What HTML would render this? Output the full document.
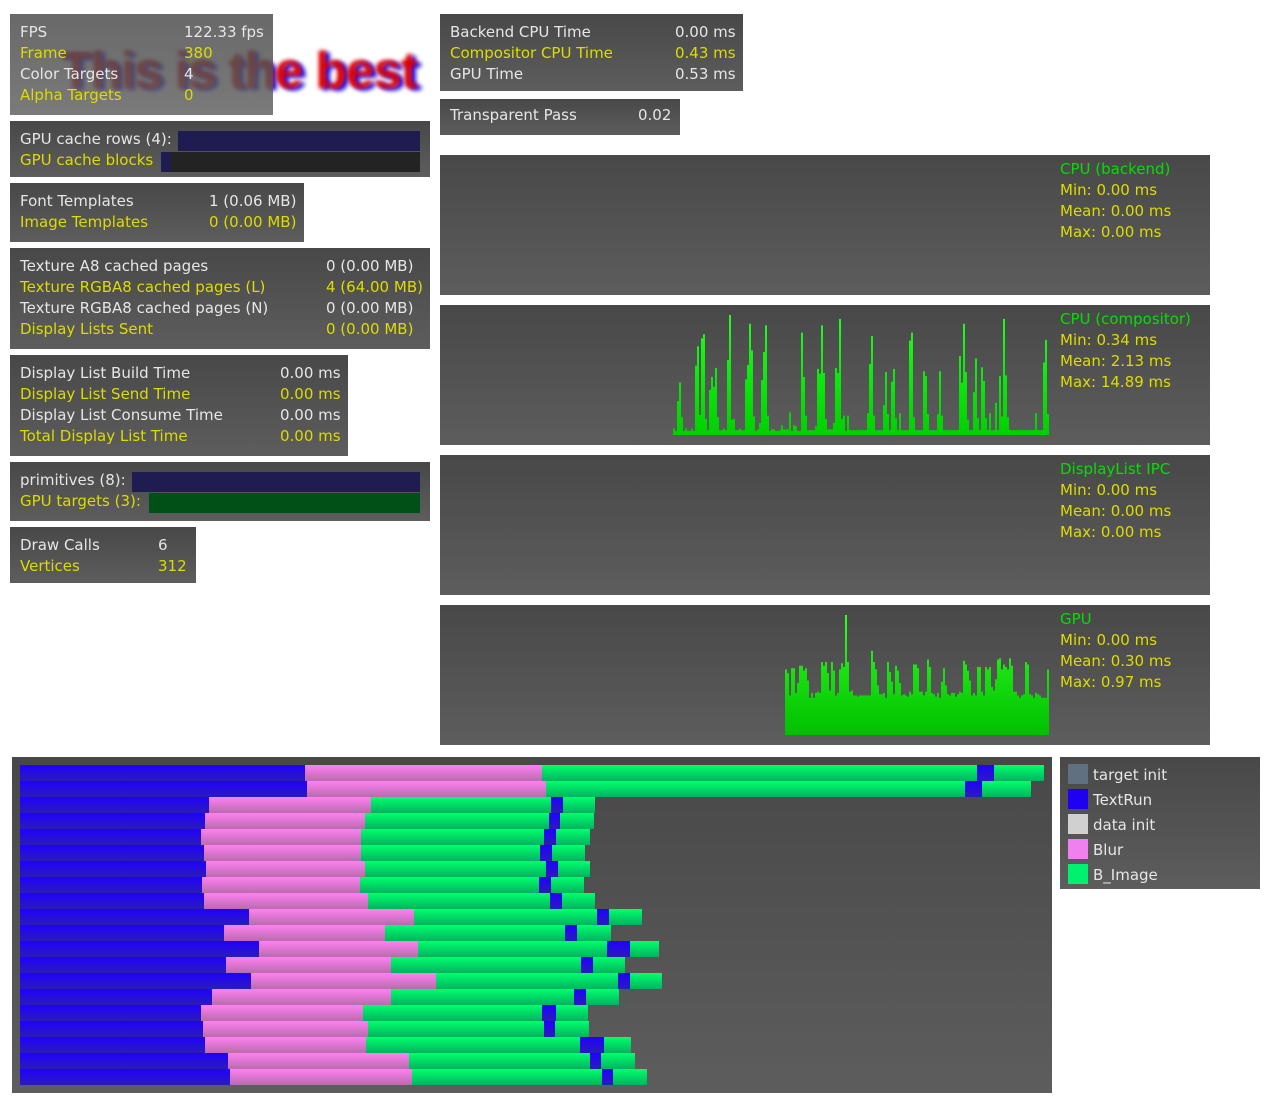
<!DOCTYPE html>
<html><head><meta charset="utf-8">
<style>
*{box-sizing:border-box}
body{margin:0;width:1280px;height:1118px;background:#fff;position:relative;overflow:hidden;font-family:"DejaVu Sans","Liberation Sans",sans-serif;font-size:15px}
.p{position:absolute;background:linear-gradient(#484848,#5d5d5d)}
.t{position:absolute;white-space:nowrap;line-height:21px;color:#e6e6e6}
.y{color:#dcdc00}
.g{color:#00e000}
</style></head><body>
<svg style="position:absolute;left:0;top:0" width="440" height="120">
<defs><filter id="bl"><feGaussianBlur stdDeviation="2.2"/></filter></defs>
<text x="64" y="90" font-family="Liberation Sans" font-weight="bold" font-size="52" fill="#1010ff" textLength="358" filter="url(#bl)">This is the best</text>
<text x="60" y="88" font-family="Liberation Sans" font-weight="bold" font-size="52" fill="#e00000" textLength="358" filter="url(#bl)">This is the best</text>
</svg>
<div class="p" style="left:10px;top:14px;width:263px;height:101px;opacity:.82"></div>
<div class="t" style="left:20px;top:22px">FPS<br><span class="y">Frame</span><br>Color Targets<br><span class="y">Alpha Targets</span></div>
<div class="t" style="left:184px;top:22px">122.33 fps<br><span class="y">380</span><br>4<br><span class="y">0</span></div>

<div class="p" style="left:10px;top:121px;width:420px;height:56px"></div>
<div class="t" style="left:20px;top:129px">GPU cache rows (4):<br><span class="y">GPU cache blocks</span></div>
<div style="position:absolute;left:178px;top:131px;width:242px;height:20px;background:#1e1c50"></div>
<div style="position:absolute;left:161px;top:152px;width:259px;height:20px;background:#232323"><div style="width:10px;height:20px;background:#1e1c50"></div></div>

<div class="p" style="left:10px;top:183px;width:294px;height:59px"></div>
<div class="t" style="left:20px;top:191px">Font Templates<br><span class="y">Image Templates</span></div>
<div class="t" style="left:209px;top:191px">1 (0.06 MB)<br><span class="y">0 (0.00 MB)</span></div>

<div class="p" style="left:10px;top:248px;width:420px;height:101px"></div>
<div class="t" style="left:20px;top:256px">Texture A8 cached pages<br><span class="y">Texture RGBA8 cached pages (L)</span><br>Texture RGBA8 cached pages (N)<br><span class="y">Display Lists Sent</span></div>
<div class="t" style="left:326px;top:256px">0 (0.00 MB)<br><span class="y">4 (64.00 MB)</span><br>0 (0.00 MB)<br><span class="y">0 (0.00 MB)</span></div>

<div class="p" style="left:10px;top:355px;width:338px;height:101px"></div>
<div class="t" style="left:20px;top:363px">Display List Build Time<br><span class="y">Display List Send Time</span><br>Display List Consume Time<br><span class="y">Total Display List Time</span></div>
<div class="t" style="left:280px;top:363px">0.00 ms<br><span class="y">0.00 ms</span><br>0.00 ms<br><span class="y">0.00 ms</span></div>

<div class="p" style="left:10px;top:462px;width:420px;height:59px"></div>
<div class="t" style="left:20px;top:470px">primitives (8):<br><span class="y">GPU targets (3):</span></div>
<div style="position:absolute;left:132px;top:472px;width:288px;height:20px;background:#1e1c50"></div>
<div style="position:absolute;left:149px;top:493px;width:271px;height:20px;background:#005018"></div>

<div class="p" style="left:10px;top:527px;width:186px;height:56px"></div>
<div class="t" style="left:20px;top:535px">Draw Calls<br><span class="y">Vertices</span></div>
<div class="t" style="left:158px;top:535px">6<br><span class="y">312</span></div>

<div class="p" style="left:440px;top:14px;width:303px;height:77px"></div>
<div class="t" style="left:450px;top:22px">Backend CPU Time<br><span class="y">Compositor CPU Time</span><br>GPU Time</div>
<div class="t" style="left:675px;top:22px">0.00 ms<br><span class="y">0.43 ms</span><br>0.53 ms</div>

<div class="p" style="left:440px;top:99px;width:240px;height:36px"></div>
<div class="t" style="left:450px;top:105px">Transparent Pass</div>
<div class="t" style="left:638px;top:105px">0.02</div>

<div class="p" style="left:440px;top:155px;width:770px;height:140px"></div>
<div class="t" style="left:1060px;top:159px"><span class="g">CPU (backend)</span><br><span class="y">Min: 0.00 ms<br>Mean: 0.00 ms<br>Max: 0.00 ms</span></div>
<div class="p" style="left:440px;top:305px;width:770px;height:140px"></div>
<div class="t" style="left:1060px;top:309px"><span class="g">CPU (compositor)</span><br><span class="y">Min: 0.34 ms<br>Mean: 2.13 ms<br>Max: 14.89 ms</span></div>
<div class="p" style="left:440px;top:455px;width:770px;height:140px"></div>
<div class="t" style="left:1060px;top:459px"><span class="g">DisplayList IPC</span><br><span class="y">Min: 0.00 ms<br>Mean: 0.00 ms<br>Max: 0.00 ms</span></div>
<div class="p" style="left:440px;top:605px;width:770px;height:140px"></div>
<div class="t" style="left:1060px;top:609px"><span class="g">GPU</span><br><span class="y">Min: 0.00 ms<br>Mean: 0.30 ms<br>Max: 0.97 ms</span></div>

<div class="p" style="left:12px;top:757px;width:1040px;height:336px"></div>
<div class="p" style="left:1060px;top:757px;width:200px;height:132px"></div>
<div style="position:absolute;left:1068px;top:764px">
<div class="t" style="left:0;top:0"><span style="display:inline-block;width:20px;height:20px;background:#607080;vertical-align:-4px;margin-right:5px"></span>target init</div>
<div class="t" style="left:0;top:25px"><span style="display:inline-block;width:20px;height:20px;background:#2000f0;vertical-align:-4px;margin-right:5px"></span>TextRun</div>
<div class="t" style="left:0;top:50px"><span style="display:inline-block;width:20px;height:20px;background:#d0d0d0;vertical-align:-4px;margin-right:5px"></span>data init</div>
<div class="t" style="left:0;top:75px"><span style="display:inline-block;width:20px;height:20px;background:#f080f0;vertical-align:-4px;margin-right:5px"></span>Blur</div>
<div class="t" style="left:0;top:100px"><span style="display:inline-block;width:20px;height:20px;background:#00f070;vertical-align:-4px;margin-right:5px"></span>B_Image</div>
</div>

<svg id="chart" style="position:absolute;left:0;top:0" width="1280" height="1118">
<defs>
<linearGradient id="gb" x1="0" y1="0" x2="0" y2="1"><stop offset="0" stop-color="#2000ff"/><stop offset="1" stop-color="#2a1cb8"/></linearGradient>
<linearGradient id="gp" x1="0" y1="0" x2="0" y2="1"><stop offset="0" stop-color="#ff80f4"/><stop offset="1" stop-color="#b86cac"/></linearGradient>
<linearGradient id="gg" x1="0" y1="0" x2="0" y2="1"><stop offset="0" stop-color="#00ff6c"/><stop offset="1" stop-color="#00b460"/></linearGradient>
<linearGradient id="gc" gradientUnits="userSpaceOnUse" x1="0" y1="315" x2="0" y2="435"><stop offset="0" stop-color="#20ff20"/><stop offset="1" stop-color="#00d000"/></linearGradient>
<linearGradient id="gq" gradientUnits="userSpaceOnUse" x1="0" y1="615" x2="0" y2="735"><stop offset="0" stop-color="#30ff20"/><stop offset="1" stop-color="#00c000"/></linearGradient>
</defs>
</svg>
<script>
// GPU timeline rows: widths of each segment (time units, 1 unit = 1px)
const textRun1 = [285,287,189,185,181,184,186,182,184,229,204,239,206,231,192,181,183,185,208,210];
const blur = [237,239,162,160,160,157,159,158,164,165,161,159,165,185,179,162,165,161,181,182];
const image1 = [435,419,180,184,183,179,181,179,182,183,180,189,190,182,183,179,176,214,181,190];
const textRun2 = [17,17,12,11,12,12,12,12,12,12,12,23,12,12,12,14,11,24,11,11];
const image2 = [50,49,32,34,34,33,32,33,33,33,34,29,32,32,33,32,34,27,34,34];

const compVals = [0.8,0.5,4.2,6.5,2.2,0.5,0.8,0.5,0.5,0.8,0.5,8.6,11,2.5,12,12.5,2,0.6,5.6,7.2,6,8.3,2.2,0.6,0.6,0.8,0.6,9.3,14.89,1.9,2,0.6,0.6,0.8,0.6,0.6,6.9,8.7,13.8,10.5,2.3,0.5,0.7,1.5,6.8,10.3,13.6,2.4,0.5,0.7,0.7,0.5,0.5,0.6,1.2,0.7,0.7,0.7,2.8,0.5,1.2,1.1,0.5,0.5,12.7,7.2,2.4,0.6,0.6,0.6,0.6,1.1,8.2,7.6,13.6,7.7,2,0.7,0.7,0.7,1.5,8.3,7.7,14.4,2,2.4,0.5,2.4,0.6,0.6,0.6,0.6,0.6,0.6,0.6,0.6,0.6,2.7,8.8,12.3,2.4,0.6,0.6,0.6,0.6,3.7,7.8,2.6,0.6,6.6,8.2,2.1,0.6,2.7,0.6,0.6,0.6,0.6,11.7,12.7,2.2,0.6,0.6,0.6,0.6,7.9,7.3,2.6,0.6,0.6,0.6,0.6,2.6,7.9,2.4,0.6,0.6,0.6,0.6,0.6,0.6,0.6,0.6,9.8,6.5,13.8,7.8,1.9,0.6,0.6,5.3,9.5,2.1,0.6,8.4,6.7,2.1,0.6,2.7,0.6,0.6,4,0.6,7.3,2.3,14.4,7.4,2.2,0.6,0.6,0.6,0.6,0.6,0.6,0.6,0.6,0.6,0.6,0.6,0.6,0.6,2.7,0.6,0.6,0.6,9,11.8,2.6];
const gpuVals = [0.53,0.5,0.32,0.54,0.54,0.34,0.42,0.56,0.56,0.52,0.54,0.44,0.3,0.34,0.3,0.34,0.35,0.34,0.59,0.56,0.59,0.5,0.36,0.59,0.52,0.32,0.34,0.53,0.58,0.55,0.97,0.59,0.35,0.36,0.32,0.32,0.31,0.32,0.32,0.32,0.32,0.32,0.32,0.68,0.59,0.53,0.4,0.33,0.33,0.34,0.3,0.59,0.51,0.43,0.33,0.56,0.52,0.42,0.32,0.33,0.32,0.31,0.35,0.33,0.57,0.57,0.54,0.35,0.35,0.32,0.35,0.61,0.55,0.34,0.33,0.31,0.34,0.3,0.43,0.54,0.4,0.33,0.32,0.34,0.34,0.31,0.33,0.35,0.34,0.6,0.57,0.52,0.44,0.32,0.34,0.32,0.55,0.55,0.35,0.32,0.55,0.53,0.55,0.39,0.36,0.45,0.61,0.62,0.53,0.57,0.55,0.53,0.62,0.56,0.35,0.35,0.32,0.3,0.32,0.33,0.59,0.57,0.33,0.32,0.3,0.34,0.33,0.32,0.3,0.3,0.3,0.53];

const svg = document.getElementById('chart');
const NS = 'http://www.w3.org/2000/svg';
const xT = v => 20 + v;          // timeline x axis
const yRow = i => 765 + i * 16;  // timeline row axis
function rect(x, y, w, h, fill) {
  const r = document.createElementNS(NS, 'rect');
  r.setAttribute('x', x); r.setAttribute('y', y);
  r.setAttribute('width', Math.max(0, w)); r.setAttribute('height', h);
  r.setAttribute('fill', fill);
  svg.appendChild(r);
  return r;
}
const segs = [[textRun1,'url(#gb)','textrun'],[blur,'url(#gp)','blur'],[image1,'url(#gg)','b-image'],[textRun2,'url(#gb)','textrun'],[image2,'url(#gg)','b-image']];
for (let i = 0; i < textRun1.length; i++) {
  let t = 0;
  segs.forEach(([arr, fill, nm], k) => {
    const r = rect(xT(t), yRow(i), xT(t + arr[i]) - xT(t), 16, fill);
    
    
    t += arr[i];
  });
}
// compositor graph
const cx = i => 673 + i * 2, cBase = 435, cy = v => cBase - v / 14.89 * 120;
compVals.forEach((v, i) => {
  const r = rect(cx(i), cy(v), 2, cBase - cy(v), 'url(#gc)');
  
  
});
// gpu graph
const gx = i => 785 + i * 2, gBase = 735, gy = v => gBase - v / 0.97 * 120;
gpuVals.forEach((v, i) => {
  const r = rect(gx(i), gy(v), 2, gBase - gy(v), 'url(#gq)');
  
  
});
</script>
</body></html>
